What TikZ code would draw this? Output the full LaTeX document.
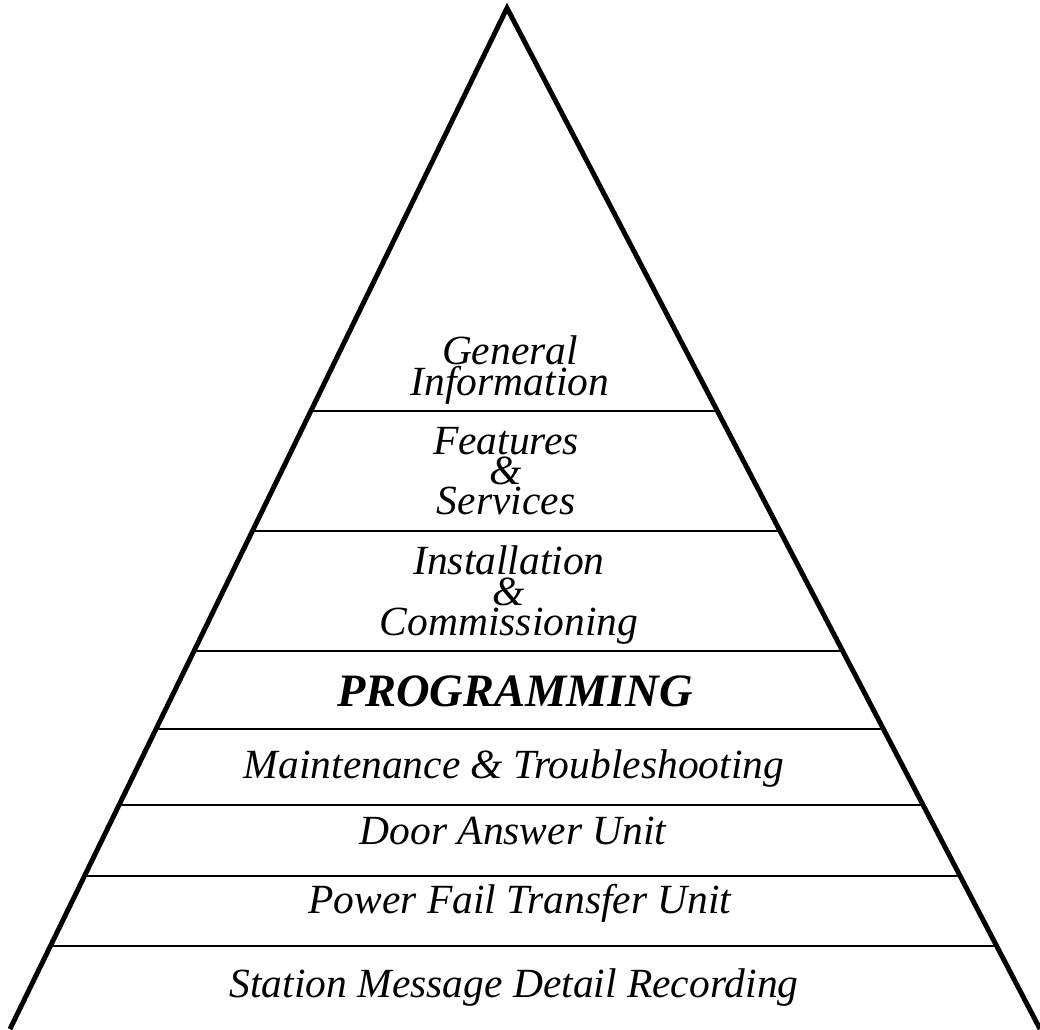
\documentclass[tikz,border=0pt]{standalone}
\usepackage{fontspec}
\setmainfont{Liberation Serif}
\usetikzlibrary{calc}

\begin{document}
\begin{tikzpicture}[x=0.01cm, y=-0.01cm,
    layer/.style={align=center, inner sep=0pt, font=\fontsize{11.8}{8.6}\selectfont\itshape}]
    \useasboundingbox (0, 0) rectangle (1040, 1029);
    \coordinate (top) at (507, 8);
    \coordinate (bl) at (10, 1029);
    \coordinate (br) at (1040, 1029);
    \begin{scope}
      \clip (0, 0) rectangle (1040, 1029);
      \draw[line width=1.4pt, line join=miter] (bl) -- (top) -- (br);
    \end{scope}
    \foreach \y in {411, 531, 651, 729, 805, 876, 946}
      \draw[line width=0.6pt] ($(top)!{(\y-8)/1021}!(bl)$) -- ($(top)!{(\y-8)/1021}!(br)$);
    \node[layer] (gen) at (510, 370) {General\\Information};
    \node[layer] (feat) at (506, 471) {Features\\\&\\Services};
    \node[layer] (inst) at (509, 595) {Installation\\\&\\Commissioning};
    \node[layer, font=\fontsize{13.2}{14}\selectfont\bfseries\itshape] (prog) at (515, 691) {PROGRAMMING};
    \node[layer] (maint) at (514, 768) {Maintenance \& Troubleshooting};
    \node[layer] (door) at (513, 831) {Door Answer Unit};
    \node[layer] (pftu) at (520, 903) {Power Fail Transfer Unit};
    \node[layer] (smdr) at (514, 987) {Station Message Detail Recording};
\end{tikzpicture}
\end{document}
